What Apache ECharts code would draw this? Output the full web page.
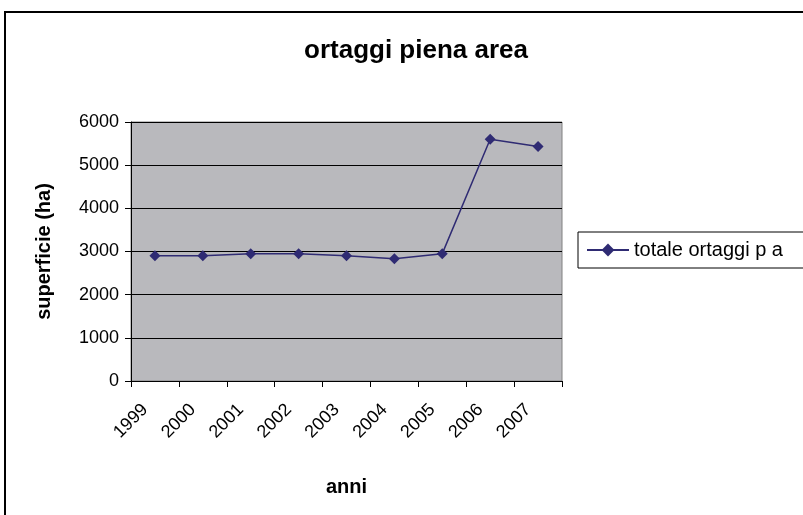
<!DOCTYPE html>
<html>
<head>
    <meta charset="utf-8">
    <script src="https://cdn.jsdelivr.net/npm/echarts@6/dist/echarts.min.js"></script>
    <style>
        html, body { margin: 0; padding: 0; background: #fff; }
        #chart { width: 803px; height: 515px; }
    </style>
</head>
<body>
    <div id="chart"></div>
    <script>
        var years = ['1999', '2000', '2001', '2002', '2003', '2004', '2005', '2006', '2007'];
        var totaleOrtaggi = [2900, 2900, 2950, 2950, 2900, 2830, 2950, 5600, 5430];
        var yTicks = [0, 1000, 2000, 3000, 4000, 5000, 6000];

        var chart = echarts.init(document.getElementById('chart'));
        var font = 'Liberation Sans, Arial, sans-serif';

        chart.setOption({
            animation: false,
            textStyle: { fontFamily: font },
            title: {
                text: 'ortaggi piena area',
                left: 411,
                top: 33,
                textAlign: 'center',
                textStyle: { fontSize: 26, fontWeight: 'bold', color: '#000', fontFamily: font }
            },
            graphic: [{
                type: 'rect',
                shape: { x: 5, y: 12, width: 820, height: 520 },
                style: { fill: 'none', stroke: '#000', lineWidth: 2 },
                silent: true
            }],
            legend: {
                left: 578,
                top: 232,
                padding: [8, 40, 8, 8],
                borderColor: '#000',
                borderWidth: 1,
                borderRadius: 0,
                itemWidth: 42,
                itemHeight: 16,
                itemGap: 4,
                textStyle: { fontSize: 20, color: '#000', fontFamily: font },
                data: ['totale ortaggi p a']
            },
            grid: {
                left: 131,
                right: 241,
                top: 122,
                bottom: 134,
                show: true,
                backgroundColor: '#b9b9bd',
                borderColor: '#808080',
                borderWidth: 1
            },
            xAxis: {
                type: 'category',
                data: years,
                boundaryGap: true,
                name: 'anni',
                nameLocation: 'middle',
                nameGap: 96,
                nameTextStyle: { fontSize: 20, fontWeight: 'bold', color: '#000' },
                axisLine: { lineStyle: { color: '#000', width: 1 } },
                axisTick: { show: true, inside: false, length: 6, alignWithLabel: false, lineStyle: { color: '#000' } },
                axisLabel: { rotate: 45, fontSize: 18, color: '#000', margin: 16, padding: [0, 14, 0, 0] },
                splitLine: { show: false }
            },
            yAxis: {
                type: 'value',
                min: yTicks[0],
                max: yTicks[yTicks.length - 1],
                interval: 1000,
                name: 'superficie (ha)',
                nameLocation: 'middle',
                nameGap: 77,
                nameTextStyle: { fontSize: 20, fontWeight: 'bold', color: '#000' },
                axisLine: { show: true, lineStyle: { color: '#000', width: 1 } },
                axisTick: { show: true, inside: false, length: 6, lineStyle: { color: '#000' } },
                axisLabel: { fontSize: 18, color: '#000', margin: 12, formatter: function (v) { return String(v); } },
                splitLine: { show: true, lineStyle: { color: '#000', width: 1 } }
            },
            series: [{
                name: 'totale ortaggi p a',
                type: 'line',
                data: totaleOrtaggi,
                symbol: 'diamond',
                symbolSize: 11,
                lineStyle: { color: '#2f2b73', width: 1.5 },
                itemStyle: { color: '#2f2b73' }
            }]
        });
    </script>
</body>
</html>
